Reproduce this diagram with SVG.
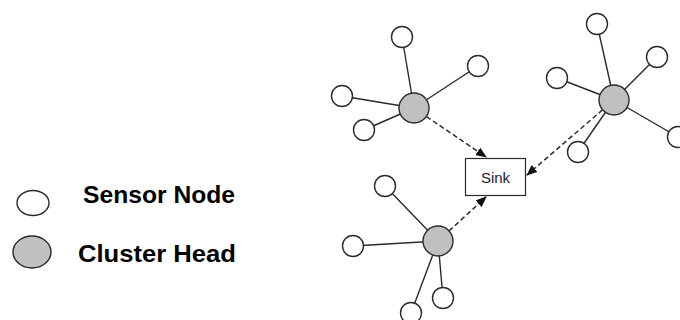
<svg xmlns="http://www.w3.org/2000/svg" width="680" height="320" viewBox="0 0 680 320">
  <style>
    .link { stroke: #2b2b2b; stroke-width: 1.4; fill: none; }
    .dash { stroke: #2b2b2b; stroke-width: 1.5; fill: none; stroke-dasharray: 5 3; }
    .sensor { fill: #ffffff; stroke: #2b2b2b; stroke-width: 1.4; }
    .head { fill: #c0c0c0; stroke: #2b2b2b; stroke-width: 1.4; }
    .legend { font-family: "Liberation Sans", Arial, sans-serif; font-weight: bold; font-size: 24px; fill: #000; }
    .sink-label { font-family: "Liberation Sans", Arial, sans-serif; font-size: 15px; fill: #1a1a2a; }
  </style>
  <defs>
    <marker id="arrow" markerUnits="userSpaceOnUse" markerWidth="11" markerHeight="9" refX="10" refY="4.5" orient="auto">
      <path d="M0,0 L11,4.5 L0,9 z" fill="#111"/>
    </marker>
  </defs>
  <rect width="680" height="320" fill="#ffffff"/>

  <!-- member links inside each cluster -->
  <g id="links">
    <line class="link" x1="414" y1="108" x2="402" y2="37"/>
    <line class="link" x1="414" y1="108" x2="478" y2="66"/>
    <line class="link" x1="414" y1="108" x2="342" y2="96"/>
    <line class="link" x1="414" y1="108" x2="364" y2="130"/>

    <line class="link" x1="614" y1="100" x2="597" y2="24"/>
    <line class="link" x1="614" y1="100" x2="657" y2="57"/>
    <line class="link" x1="614" y1="100" x2="557" y2="78"/>
    <line class="link" x1="614" y1="100" x2="578" y2="152"/>
    <line class="link" x1="614" y1="100" x2="678" y2="137"/>

    <line class="link" x1="438" y1="241" x2="385" y2="186"/>
    <line class="link" x1="438" y1="241" x2="353" y2="246"/>
    <line class="link" x1="438" y1="241" x2="443" y2="298"/>
    <line class="link" x1="438" y1="241" x2="411" y2="313"/>
  </g>

  <!-- cluster heads forwarding to the sink -->
  <g id="connectors">
    <line class="dash" x1="426.4" y1="116.5" x2="486" y2="157" marker-end="url(#arrow)"/>
    <line class="dash" x1="602.6" y1="109.8" x2="527" y2="175" marker-end="url(#arrow)"/>
    <line class="dash" x1="449" y1="231" x2="486" y2="197" marker-end="url(#arrow)"/>
  </g>

  <g id="cluster1">
    <circle class="head" cx="414" cy="108" r="15"/>
    <circle class="sensor" cx="402" cy="37" r="10.5"/>
    <circle class="sensor" cx="478" cy="66" r="10.5"/>
    <circle class="sensor" cx="342" cy="96" r="10.5"/>
    <circle class="sensor" cx="364" cy="130" r="10.5"/>
  </g>

  <g id="cluster2">
    <circle class="head" cx="614" cy="100" r="15"/>
    <circle class="sensor" cx="597" cy="24" r="10.5"/>
    <circle class="sensor" cx="657" cy="57" r="10.5"/>
    <circle class="sensor" cx="557" cy="78" r="10.5"/>
    <circle class="sensor" cx="578" cy="152" r="10.5"/>
    <circle class="sensor" cx="678" cy="137" r="10.5"/>
  </g>

  <g id="cluster3">
    <circle class="head" cx="438" cy="241" r="15"/>
    <circle class="sensor" cx="385" cy="186" r="10.5"/>
    <circle class="sensor" cx="353" cy="246" r="10.5"/>
    <circle class="sensor" cx="443" cy="298" r="10.5"/>
    <circle class="sensor" cx="411" cy="313" r="10.5"/>
  </g>

  <g id="sink">
    <rect x="465.5" y="158.5" width="60" height="37" fill="#ffffff" stroke="#2b2b2b" stroke-width="1.2"/>
    <text class="sink-label" x="495.5" y="183" text-anchor="middle">Sink</text>
  </g>

  <g id="legend">
    <ellipse class="sensor" cx="33" cy="203" rx="16" ry="12.5"/>
    <text class="legend" x="83" y="203" textLength="152" lengthAdjust="spacingAndGlyphs">Sensor Node</text>
    <ellipse class="head" cx="32" cy="252" rx="19" ry="16"/>
    <text class="legend" x="78" y="262" textLength="158" lengthAdjust="spacingAndGlyphs">Cluster Head</text>
  </g>
</svg>
